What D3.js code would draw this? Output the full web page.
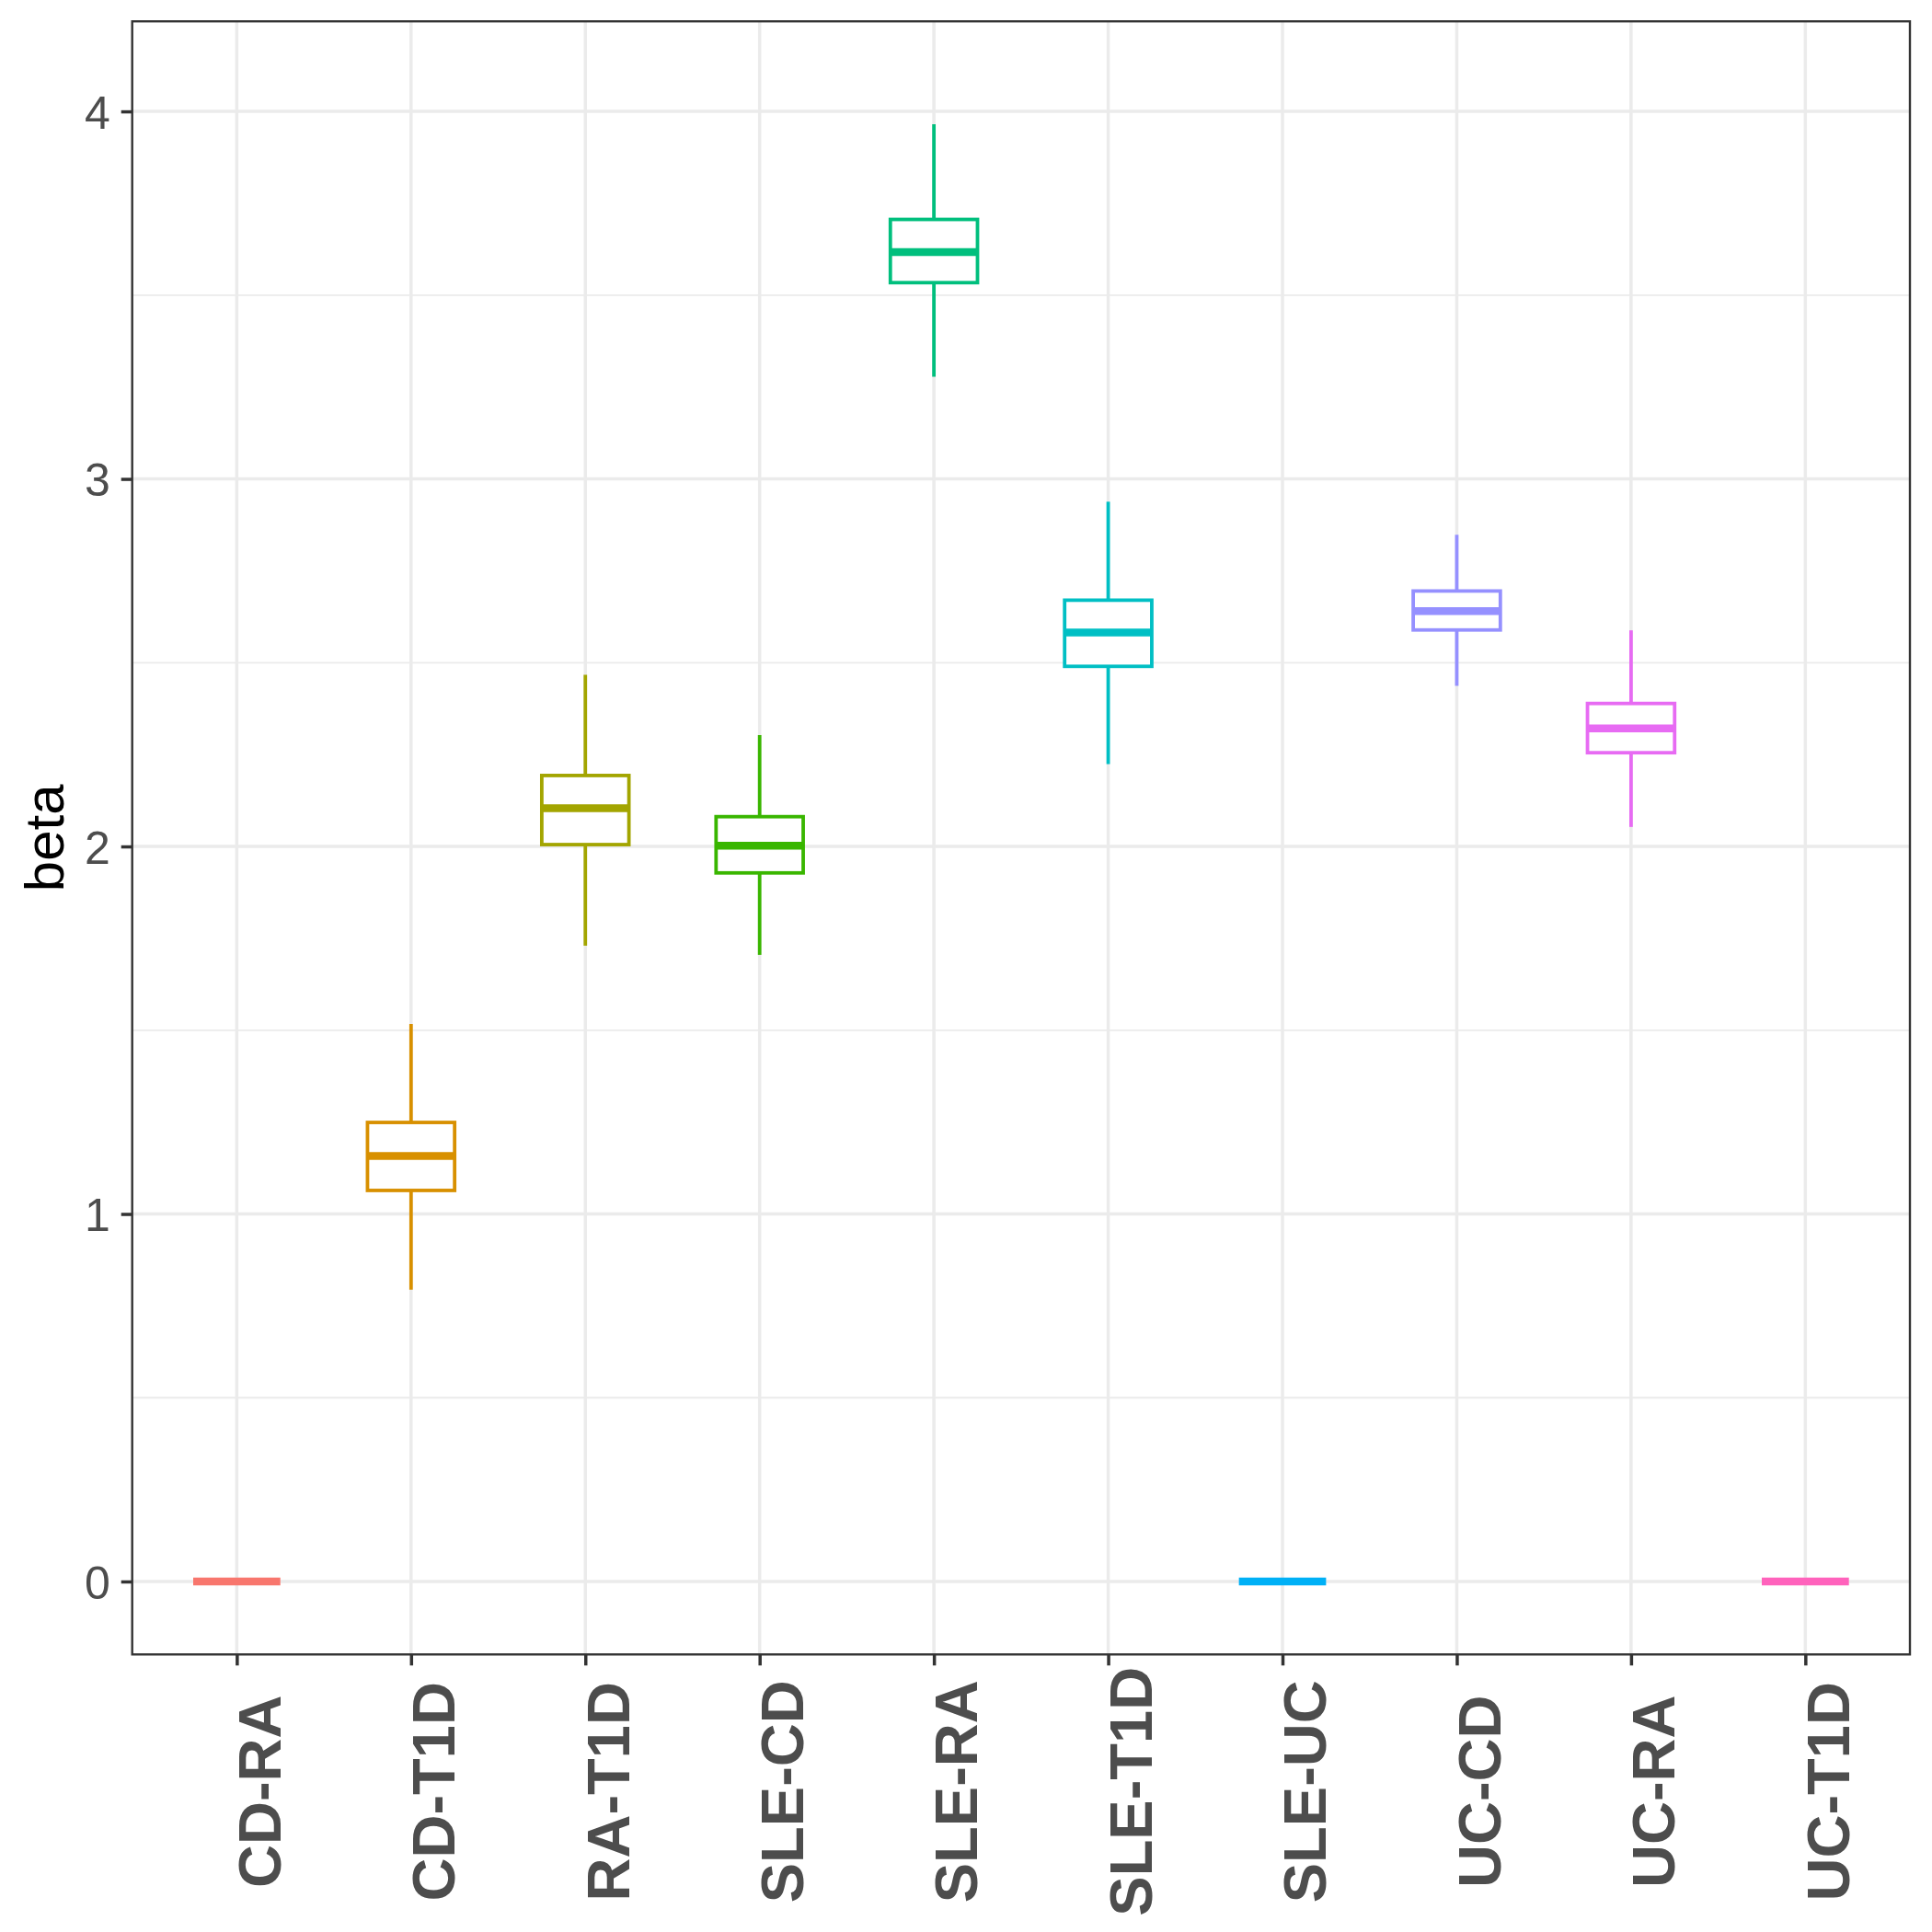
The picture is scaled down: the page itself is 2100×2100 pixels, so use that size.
<!DOCTYPE html>
<html>
<head>
<meta charset="utf-8">
<script src="https://cdn.jsdelivr.net/npm/d3@7"></script>
<style>
  body { margin: 0; background: #fff; }
  svg { display: block; }
</style>
</head>
<body>
<svg id="chart" width="2100" height="2100"></svg>
<script>
// comparison pairs on the x axis
var categories = ["CD-RA", "CD-T1D", "RA-T1D", "SLE-CD", "SLE-RA",
                  "SLE-T1D", "SLE-UC", "UC-CD", "UC-RA", "UC-T1D"];

// box statistics
var whiskerLow  = [0, 0.794, 1.730, 1.705, 3.278, 2.224, 0, 2.437, 2.053, 0];
var q1          = [0, 1.064, 2.005, 1.928, 3.534, 2.490, 0, 2.589, 2.255, 0];
var medians     = [0, 1.158, 2.104, 2.002, 3.617, 2.582, 0, 2.640, 2.321, 0];
var q3          = [0, 1.249, 2.193, 2.081, 3.706, 2.670, 0, 2.695, 2.389, 0];
var whiskerHigh = [0, 1.517, 2.467, 2.303, 3.965, 2.938, 0, 2.848, 2.588, 0];

var yTicks = [0, 1, 2, 3, 4];
var yMinor = [0.5, 1.5, 2.5, 3.5];
var yDomain = [-0.1985, 4.245];

var colors = ["#F8766D", "#D89000", "#A3A500", "#39B600", "#00BF7D",
              "#00BFC4", "#00B0F6", "#9590FF", "#E76BF3", "#FF62BC"];

var panel = {left: 143.7, right: 2076, top: 23.2, bottom: 1798.3};
var font = "'Liberation Sans', Arial, Helvetica, sans-serif";

var svg = d3.select("#chart");
svg.append("rect").attr("width", 2100).attr("height", 2100).attr("fill", "#fff");

var x = d3.scalePoint().domain(categories)
    .range([panel.left, panel.right]).padding(0.6);
var y = d3.scaleLinear().domain(yDomain).range([panel.bottom, panel.top]);

var boxWidth = x.step() * 0.5;

// grid
var grid = svg.append("g");
grid.selectAll(".minor").data(yMinor).enter().append("line")
    .attr("x1", panel.left).attr("x2", panel.right)
    .attr("y1", function(d) { return y(d); })
    .attr("y2", function(d) { return y(d); })
    .attr("stroke", "#EBEBEB").attr("stroke-width", 1.8);
grid.selectAll(".major").data(yTicks).enter().append("line")
    .attr("x1", panel.left).attr("x2", panel.right)
    .attr("y1", function(d) { return y(d); })
    .attr("y2", function(d) { return y(d); })
    .attr("stroke", "#EBEBEB").attr("stroke-width", 3.5);
grid.selectAll(".vmajor").data(categories).enter().append("line")
    .attr("x1", function(d) { return x(d); })
    .attr("x2", function(d) { return x(d); })
    .attr("y1", panel.top).attr("y2", panel.bottom)
    .attr("stroke", "#EBEBEB").attr("stroke-width", 3.5);

// boxes
var boxes = svg.append("g").selectAll("g.box")
    .data(categories).enter().append("g").attr("class", "box");

boxes.append("line")
    .attr("x1", function(d) { return x(d); })
    .attr("x2", function(d) { return x(d); })
    .attr("y1", function(d, i) { return y(whiskerHigh[i]); })
    .attr("y2", function(d, i) { return y(q3[i]); })
    .attr("stroke", function(d, i) { return colors[i]; })
    .attr("stroke-width", 3.8);
boxes.append("line")
    .attr("x1", function(d) { return x(d); })
    .attr("x2", function(d) { return x(d); })
    .attr("y1", function(d, i) { return y(q1[i]); })
    .attr("y2", function(d, i) { return y(whiskerLow[i]); })
    .attr("stroke", function(d, i) { return colors[i]; })
    .attr("stroke-width", 3.8);
boxes.append("rect")
    .attr("x", function(d) { return x(d) - boxWidth / 2; })
    .attr("width", boxWidth)
    .attr("y", function(d, i) { return y(q3[i]); })
    .attr("height", function(d, i) { return y(q1[i]) - y(q3[i]); })
    .attr("fill", "#fff")
    .attr("stroke", function(d, i) { return colors[i]; })
    .attr("stroke-width", 3.8);
boxes.append("line")
    .attr("x1", function(d) { return x(d) - boxWidth / 2; })
    .attr("x2", function(d) { return x(d) + boxWidth / 2; })
    .attr("y1", function(d, i) { return y(medians[i]); })
    .attr("y2", function(d, i) { return y(medians[i]); })
    .attr("stroke", function(d, i) { return colors[i]; })
    .attr("stroke-width", 8.5);

// panel border
svg.append("rect")
    .attr("x", panel.left).attr("y", panel.top)
    .attr("width", panel.right - panel.left)
    .attr("height", panel.bottom - panel.top)
    .attr("fill", "none").attr("stroke", "#333333").attr("stroke-width", 2.4);

// y axis
var yAxis = svg.append("g")
    .attr("transform", "translate(" + panel.left + ",0)")
    .call(d3.axisLeft(y).tickValues(yTicks).tickSize(12).tickPadding(12)
          .tickFormat(d3.format("d")));
yAxis.select(".domain").remove();
yAxis.selectAll(".tick line").attr("stroke", "#333333").attr("stroke-width", 3.5);
yAxis.selectAll(".tick text")
    .attr("fill", "#4D4D4D")
    .style("font-family", font)
    .style("font-size", "50px")
    .attr("dy", "0.36em");

// x axis, labels rotated and centred in the label band
var xAxis = svg.append("g")
    .attr("transform", "translate(0," + panel.bottom + ")")
    .call(d3.axisBottom(x).tickSize(12));
xAxis.select(".domain").remove();
xAxis.selectAll(".tick line").attr("stroke", "#333333").attr("stroke-width", 3.5);
xAxis.selectAll(".tick text")
    .attr("fill", "#4D4D4D")
    .style("font-family", font)
    .style("font-size", "65px")
    .style("font-weight", "bold")
    .attr("text-anchor", "middle")
    .attr("transform", "rotate(-90)")
    .attr("x", -149)
    .attr("y", 0)
    .attr("dy", "0.72em");

// y axis title
svg.append("text")
    .attr("transform", "translate(69," + ((panel.top + panel.bottom) / 2) + ") rotate(-90)")
    .attr("text-anchor", "middle")
    .style("font-family", font)
    .style("font-size", "60px")
    .attr("fill", "#000")
    .text("beta");
</script>
</body>
</html>
